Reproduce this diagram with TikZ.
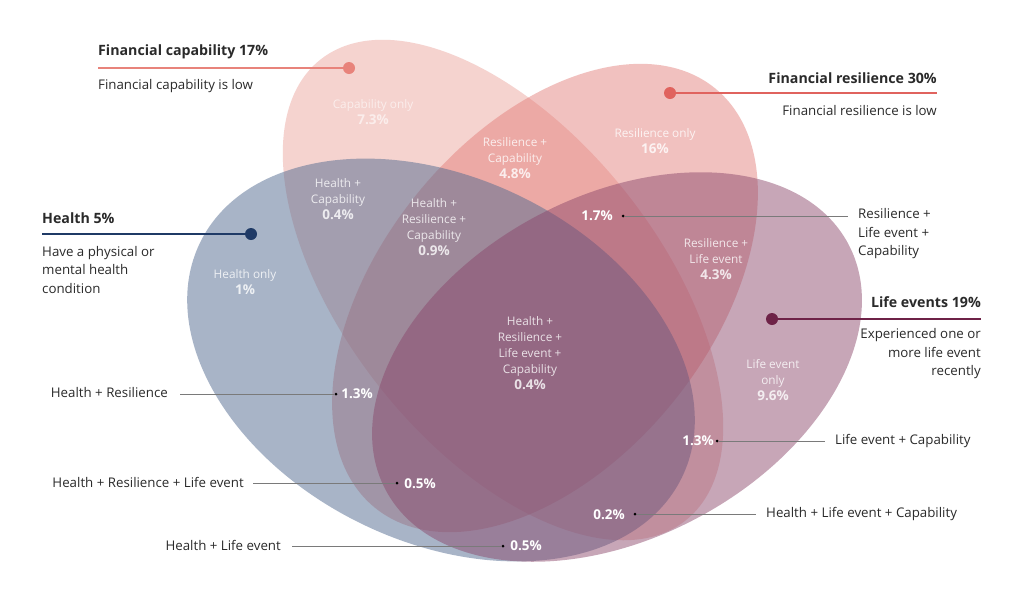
\documentclass[tikz,border=0pt]{standalone}
\usepackage{fontspec}
\setmainfont{Open Sans}
\definecolor{capc}{HTML}{E89189}
\definecolor{resc}{HTML}{E27773}
\definecolor{heac}{HTML}{526A90}
\definecolor{lifc}{HTML}{8A466A}
\definecolor{capline}{HTML}{E8837B}
\definecolor{resline}{HTML}{E0635E}
\definecolor{healine}{HTML}{1F3A66}
\definecolor{lifline}{HTML}{6E2247}
\definecolor{txt}{HTML}{2A2A2A}
\definecolor{lead}{HTML}{7A7A7A}
\newcommand{\pc}[1]{{\fontsize{13.5}{16}\selectfont\bfseries #1}}
\begin{document}
\begin{tikzpicture}[x=1pt,y=-1pt,
  inlab/.style={text=white, text opacity=0.8, align=center, inner sep=0, font=\fontsize{11.8}{16}\selectfont},
  pctlab/.style={text=white, inner sep=0, font=\fontsize{13.5}{16}\selectfont\bfseries},
  outlab/.style={text=txt, inner sep=0, font=\fontsize{13.3}{18.5}\selectfont},
  titlab/.style={text=txt, inner sep=0, font=\fontsize{14.2}{18}\selectfont\bfseries},
  bigdot/.style={circle, inner sep=0, minimum size=12pt},
  smalldot/.style={circle, fill=black, inner sep=0, minimum size=3pt},
  leader/.style={draw=lead, line width=0.7pt}]
\useasboundingbox (0,0) rectangle (1024,595);
\fill[white] (0,0) rectangle (1024,595);
% ellipses
\fill[capc, opacity=0.4, rotate around={-51.6:(503,290)}] (503,290) ellipse [x radius=294, y radius=157];
\fill[resc, opacity=0.45, rotate around={51:(545,298)}] (545,298) ellipse [x radius=270, y radius=165];
\fill[heac, opacity=0.5, rotate around={-26:(441,360)}] (441,360) ellipse [x radius=268, y radius=182];
\fill[lifc, opacity=0.48, rotate around={28:(617,367)}] (617,367) ellipse [x radius=262, y radius=171];

% inner labels
\node[inlab, text opacity=0.6] (capo) at (373,112) {Capability only\\\pc{7.3\%}};
\node[inlab] (rc) at (515,158) {Resilience +\\Capability\\\pc{4.8\%}};
\node[inlab] (reso) at (655,141) {Resilience only\\\pc{16\%}};
\node[inlab] (hc) at (338,199) {Health +\\Capability\\\pc{0.4\%}};
\node[inlab] (hrc) at (434,227) {Health +\\Resilience +\\Capability\\\pc{0.9\%}};
\node[inlab] (rl) at (716,259) {Resilience +\\Life event\\\pc{4.3\%}};
\node[inlab] (heao) at (245,282) {Health only\\\pc{1\%}};
\node[inlab] (all) at (530,353) {Health +\\Resilience +\\Life event +\\Capability\\\pc{0.4\%}};
\node[inlab] (lifo) at (773,380) {Life event\\only\\\pc{9.6\%}};

\node[pctlab] (p17) at (597,216) {1.7\%};
\node[pctlab] (p13a) at (357,394) {1.3\%};
\node[pctlab] (p05a) at (420,484) {0.5\%};
\node[pctlab] (p13b) at (698,441) {1.3\%};
\node[pctlab] (p02) at (609,515) {0.2\%};
\node[pctlab] (p05b) at (526,546) {0.5\%};

% small dots
\node[smalldot] (d17) at (623,216) {};
\node[smalldot] (d13a) at (336,394) {};
\node[smalldot] (d05a) at (397,483) {};
\node[smalldot] (d13b) at (717,441) {};
\node[smalldot] (d02) at (635,514) {};
\node[smalldot] (d05b) at (503,546) {};

% outer leader labels
\node[outlab, anchor=west, align=left] (l17) at (858,234) {Resilience +\\Life event +\\Capability};
\coordinate (e17) at (848,216);
\draw[leader] (d17) -- (e17);
\node[outlab, anchor=west] (l13b) at (835,441) {Life event + Capability};
\coordinate (e13b) at (825,441);
\draw[leader] (d13b) -- (e13b);
\node[outlab, anchor=west] (l02) at (766,514) {Health + Life event + Capability};
\coordinate (e02) at (756,514);
\draw[leader] (d02) -- (e02);
\node[outlab, anchor=east] (l13a) at (168,393) {Health + Resilience};
\coordinate (e13a) at (180,394);
\draw[leader] (e13a) -- (d13a);
\node[outlab, anchor=east] (l05a) at (244,482) {Health + Resilience + Life event};
\coordinate (e05a) at (253,483);
\draw[leader] (e05a) -- (d05a);
\node[outlab, anchor=east] (l05b) at (281,545) {Health + Life event};
\coordinate (e05b) at (292,546);
\draw[leader] (e05b) -- (d05b);

% set titles
\node[titlab, anchor=west] (tcap) at (98,52) {Financial capability 17\%};
\node[outlab, anchor=west] (scap) at (98,86) {Financial capability is low};
\node[bigdot, fill=capline] (dcap) at (349,68) {};
\coordinate (ecap) at (98,68);
\draw[capline, line width=1.3pt] (ecap) -- (dcap);

\node[titlab, anchor=east] (tres) at (937,78) {Financial resilience 30\%};
\node[outlab, anchor=east] (sres) at (937,111) {Financial resilience is low};
\node[bigdot, fill=resline] (dres) at (670,93) {};
\coordinate (eres) at (937,93);
\draw[resline, line width=1.3pt] (dres) -- (eres);

\node[titlab, anchor=west] (thea) at (42,218) {Health 5\%};
\node[outlab, anchor=west, align=left] (shea) at (42,270) {Have a physical or\\mental health\\condition};
\node[bigdot, fill=healine] (dhea) at (251,234) {};
\coordinate (ehea) at (42,234);
\draw[healine, line width=1.3pt] (ehea) -- (dhea);

\node[titlab, anchor=east] (tlif) at (981,302) {Life events 19\%};
\node[outlab, anchor=east, align=right] (slif) at (981,354) {Experienced one or\\more life event\\recently};
\node[bigdot, fill=lifline] (dlif) at (772,319) {};
\coordinate (elif) at (981,319);
\draw[lifline, line width=1.3pt] (dlif) -- (elif);
\end{tikzpicture}
\end{document}
